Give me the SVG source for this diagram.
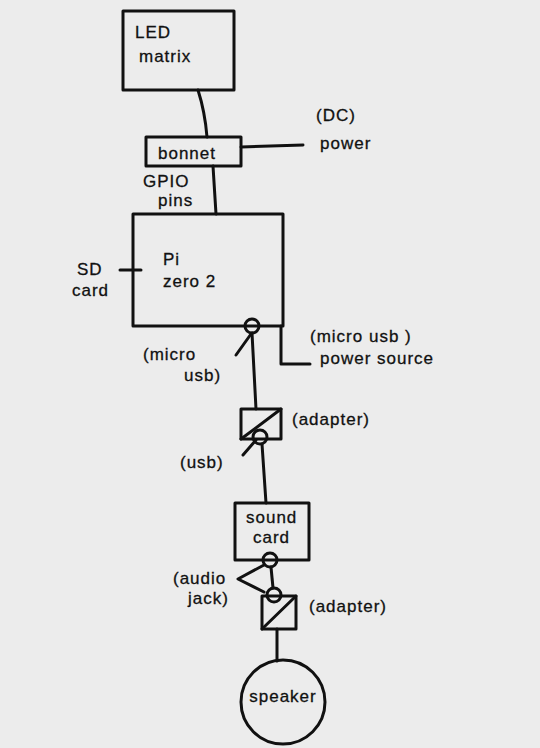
<svg xmlns="http://www.w3.org/2000/svg" width="540" height="748" viewBox="0 0 540 748">
<style>
.box{fill:none;stroke:#111;stroke-width:3;stroke-linejoin:round}
.ln{fill:none;stroke:#111;stroke-width:3;stroke-linecap:round;stroke-linejoin:round}
.t{font-family:"Liberation Sans",Arial,sans-serif;font-size:17px;letter-spacing:1px;fill:#111;stroke:#111;stroke-width:0.3}
</style>
<rect width="540" height="748" fill="#ececec"/>
<g id="connectors">
<path class="ln" d="M198,90 Q205,112 207,137"/>
<path class="ln" d="M241,147 L303,145"/>
<path class="ln" d="M213,166 L216,214"/>
<path class="ln" d="M120,270 L141,270"/>
<path class="ln" d="M252,333 L256,409"/>
<path class="ln" d="M236,355 L251,334"/>
<path class="ln" d="M281,326 L281,364 L310,364"/>
<path class="ln" d="M262,444 L266,503"/>
<path class="ln" d="M243,455 L256,440"/>
<path class="ln" d="M271,567 L273,588"/>
<path class="ln" d="M264,565 L238,579 L264,592"/>
<path class="ln" d="M277,629 L277,661"/>
</g>
<g id="led-matrix">
<rect class="box" x="123" y="11" width="111" height="79"/>
<text class="t" x="135" y="38">LED</text>
<text class="t" x="139" y="62">matrix</text>
</g>
<g id="bonnet">
<rect class="box" x="146" y="137" width="95" height="29"/>
<text class="t" x="158" y="159">bonnet</text>
</g>
<g id="dc-power">
<text class="t" x="316" y="121">(DC)</text>
<text class="t" x="320" y="149">power</text>
</g>
<g id="gpio">
<text class="t" x="143" y="187">GPIO</text>
<text class="t" x="158" y="206">pins</text>
</g>
<g id="pi">
<rect class="box" x="133" y="214" width="150" height="112"/>
<text class="t" x="163" y="265">Pi</text>
<text class="t" x="163" y="287">zero 2</text>
</g>
<g id="sd-card">
<text class="t" x="77" y="275">SD</text>
<text class="t" x="72" y="296">card</text>
</g>
<g id="micro-usb-port">
<circle class="box" cx="252" cy="326" r="7" fill="#ececec"/>
<text class="t" x="143" y="360">(micro</text>
<text class="t" x="184" y="381">usb)</text>
</g>
<g id="power-source">
<text class="t" x="310" y="342">(micro usb )</text>
<text class="t" x="320" y="364">power source</text>
</g>
<g id="adapter1">
<rect class="box" x="241" y="409" width="40" height="30"/>
<path class="ln" d="M241,439 L281,409"/>
<circle class="box" cx="260" cy="437" r="7" fill="#ececec"/>
<text class="t" x="292" y="425">(adapter)</text>
</g>
<g id="usb">
<text class="t" x="180" y="468">(usb)</text>
</g>
<g id="sound-card">
<rect class="box" x="235" y="503" width="74" height="57"/>
<text class="t" x="246" y="523">sound</text>
<text class="t" x="253" y="543">card</text>
<circle class="box" cx="270" cy="560" r="7" fill="#ececec"/>
</g>
<g id="audio-jack">
<text class="t" x="173" y="584">(audio</text>
<text class="t" x="188" y="604">jack)</text>
</g>
<g id="adapter2">
<rect class="box" x="262" y="596" width="34" height="33"/>
<path class="ln" d="M262,629 L296,596"/>
<circle class="box" cx="274" cy="595" r="7" fill="#ececec"/>
<text class="t" x="309" y="612">(adapter)</text>
</g>
<g id="speaker">
<circle class="box" cx="283" cy="702" r="42"/>
<text class="t" x="283" y="702" text-anchor="middle">speaker</text>
</g>
</svg>
